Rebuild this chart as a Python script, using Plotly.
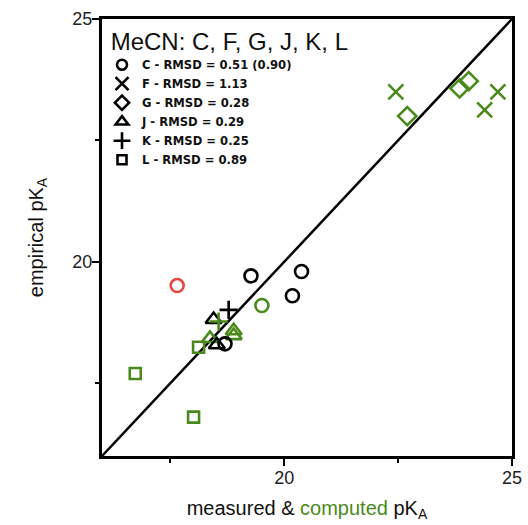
import plotly.graph_objects as go

GREEN = "#4a8a1c"
BLACK = "#000000"
RED = "#e8483f"

# C series
C_meas_x = [19.27, 20.38, 20.18, 18.70]
C_meas_y = [19.71, 19.80, 19.30, 18.31]
C_comp_x = [19.51]
C_comp_y = [19.10]
C_out_x = [17.65]
C_out_y = [19.51]
# F series
F_comp_x = [22.45, 24.69, 24.40]
F_comp_y = [23.50, 23.50, 23.13]
# G series
G_comp_x = [22.70, 23.85, 24.05]
G_comp_y = [23.00, 23.57, 23.72]
# J series
J_meas_x = [18.45, 18.52]
J_meas_y = [18.81, 18.29]
J_comp_x = [18.89, 18.89, 18.37]
J_comp_y = [18.58, 18.48, 18.42]
# K series
K_meas_x = [18.78]
K_meas_y = [19.01]
K_comp_x = [18.56]
K_comp_y = [18.77]
# L series
L_comp_x = [18.12, 16.73, 18.01]
L_comp_y = [18.24, 17.70, 16.80]

parity = [16, 25]

legend_labels = ["C - RMSD = 0.51 (0.90)", "F - RMSD = 1.13", "G - RMSD = 0.28",
                 "J - RMSD = 0.29", "K - RMSD = 0.25", "L - RMSD = 0.89"]
legend_title = "MeCN: C, F, G, J, K, L"

symbols = ["circle-open", "x-thin-open", "diamond-open", "triangle-up-open",
           "cross-thin-open", "square-open"]
sizes = [13, 15, 14, 14, 13, 11]
leg_sizes = [10, 13, 11, 11, 12, 9]

fig = go.Figure()

fig.add_trace(go.Scatter(x=parity, y=parity, mode="lines",
                         line=dict(color="black", width=2.5),
                         showlegend=False, hoverinfo="skip"))

def pts(x, y, sym, size, color):
    fig.add_trace(go.Scatter(x=x, y=y, mode="markers", showlegend=False,
                             marker=dict(symbol=sym, size=size, color=color,
                                         line=dict(color=color, width=2.6))))

pts(L_comp_x, L_comp_y, symbols[5], sizes[5], GREEN)
pts(J_comp_x, J_comp_y, symbols[3], sizes[3], GREEN)
pts(C_meas_x, C_meas_y, symbols[0], sizes[0], BLACK)
pts(J_meas_x, J_meas_y, symbols[3], sizes[3], BLACK)
pts(K_meas_x, K_meas_y, symbols[4], sizes[4], BLACK)
pts(K_comp_x, K_comp_y, symbols[4], sizes[4], GREEN)
pts(C_comp_x, C_comp_y, symbols[0], sizes[0], GREEN)
pts(C_out_x, C_out_y, symbols[0], sizes[0], RED)
pts(F_comp_x, F_comp_y, symbols[1], sizes[1], GREEN)
pts(G_comp_x, G_comp_y, symbols[2], sizes[2], GREEN)

for lab, sym, s in zip(legend_labels, symbols, leg_sizes):
    fig.add_trace(go.Scatter(x=[None], y=[None], mode="markers", name=lab,
                             marker=dict(symbol=sym, size=s, color="black",
                                         line=dict(color="black", width=2.6))))

axis_common = dict(range=[16, 25], tickvals=[20, 25], ticks="outside", ticklen=7,
                   tickwidth=2, tickcolor="black", showline=True, linecolor="black",
                   linewidth=3, mirror=True, showgrid=False, zeroline=False,
                   automargin=False, ticklabelstandoff=-4,
                   tickfont=dict(size=18, color="#222"),
                   minor=dict(tickvals=[17.5, 22.5], ticks="outside", ticklen=4,
                              tickwidth=2, tickcolor="black", showgrid=False))

fig.update_layout(
    width=528, height=525,
    margin=dict(l=102, r=16, t=19, b=69, autoexpand=False),
    plot_bgcolor="white", paper_bgcolor="white",
    font=dict(family="Liberation Sans, Arial, sans-serif", color="#111"),
    xaxis=dict(**axis_common,
               title=dict(text="measured & <span style='color:#4a8a1c'>computed</span> pK<sub>A</sub>",
                          font=dict(size=20, color="#111"), standoff=15)),
    yaxis=dict(**axis_common,
               title=dict(text="empirical pK<sub>A</sub>", font=dict(size=20, color="#111"), standoff=24)),
    legend=dict(x=0.0, y=1.0, xanchor="left", yanchor="top",
                bgcolor="rgba(0,0,0,0)", borderwidth=0,
                title=dict(text="&nbsp;" + legend_title,
                           font=dict(size=24, color="#111", weight="normal",
                                     family="Liberation Sans, Arial, sans-serif")),
                font=dict(size=11.6, color="#111", family="DejaVu Sans, sans-serif", weight="bold"),
                itemsizing="trace", tracegroupgap=0),
)

fig.write_html("out.html", config={"displayModeBar": False},
               post_script="document.body.style.margin='0';document.body.style.padding='0';")
